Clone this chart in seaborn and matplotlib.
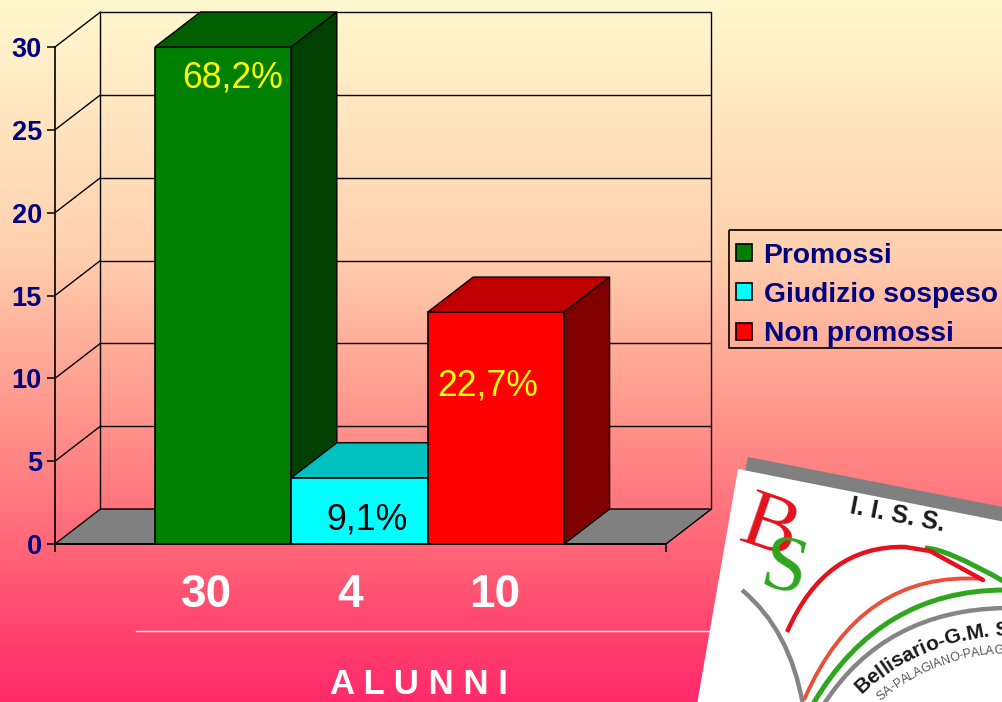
import numpy as np
import pandas as pd
import seaborn as sns
import matplotlib.pyplot as plt
from matplotlib.colors import LinearSegmentedColormap
from matplotlib.font_manager import FontProperties
from matplotlib.patches import PathPatch, Polygon, Rectangle
from matplotlib.path import Path
from matplotlib.textpath import TextPath

categories = ['Promossi', 'Giudizio sospeso', 'Non promossi']
bar_heights = [30, 4, 14]  # as drawn in the picture
alunni_labels = ['30', '4', '10']
percent_labels = ['68,2%', '9,1%', '22,7%']
percent_colors = ['#FFFF00', '#000000', '#FFFF00']
front_colors = ['#008000', '#00FFFF', '#FF0000']
top_colors = ['#006000', '#00C0C0', '#C00000']
side_colors = ['#004000', '#008080', '#800000']
y_ticks = [0, 5, 10, 15, 20, 25, 30]

W, H = 1003, 702

sns.set_theme(style='white')
plt.rcParams['font.family'] = ['Liberation Sans', 'DejaVu Sans']

fig = plt.figure(figsize=(W / 100, H / 100), dpi=100)

# background axes in picture pixels
bg = fig.add_axes([0, 0, 1, 1], zorder=0)
bg.set_xlim(0, W)
bg.set_ylim(H, 0)
bg.axis('off')
cmap = LinearSegmentedColormap.from_list('sfondo', [
    (0.0, '#FFF8CF'), (0.36, '#FFD0AE'), (0.5, '#FFAC98'),
    (0.67, '#FF8283'), (0.78, '#FF6678'), (0.89, '#FF466F'), (1.0, '#FF2A6A')])
bg.imshow(np.linspace(0, 1, 256).reshape(-1, 1), cmap=cmap, aspect='auto', extent=[0, W, H, 0])

# chart axes: y=0 at 544 px, y=30 at 47 px, bars 136.5 px wide
ax = fig.add_axes([55 / W, 1 - 544 / H, 611 / W, 497 / H], zorder=1)
ax.patch.set_alpha(0)
df = pd.DataFrame({'esito': categories, 'alunni': bar_heights})
sns.barplot(data=df, x='esito', y='alunni', hue='esito', hue_order=categories, palette=front_colors,
            width=1, dodge=False, edgecolor='black', linewidth=1.2, saturation=1, legend=False, ax=ax)
bars = sorted(ax.patches, key=lambda p: p.get_x())
ax.set_xlim(-1.233, 3.247)
ax.set_ylim(0, 30)
x0, x1 = ax.get_xlim()
dx = 45.5 / 136.5
dy = 35 / 16.57
line = dict(color='black', lw=1.0, clip_on=False)

# floor and back wall
ax.add_patch(Polygon([(x0, 0), (x1, 0), (x1 + dx, dy), (x0 + dx, dy)], closed=True, fc='#808080',
                     ec='black', lw=1.0, clip_on=False, zorder=0.5))
for v in y_ticks[1:]:
    ax.plot([x0 + dx, x1 + dx], [v + dy, v + dy], zorder=0.6, **line)
    ax.plot([x0, x0 + dx], [v, v + dy], zorder=0.6, **line)
ax.plot([x0 + dx, x0 + dx], [dy, 30 + dy], zorder=0.6, **line)
ax.plot([x1 + dx, x1 + dx], [dy, 30 + dy], zorder=0.6, **line)

# 3d faces of the bars, left to right so each one covers the previous
for i, (bar, h) in enumerate(zip(bars, bar_heights)):
    a = bar.get_x()
    b = a + bar.get_width()
    ax.add_patch(Polygon([(a, h), (b, h), (b + dx, h + dy), (a + dx, h + dy)], closed=True, fc=top_colors[i],
                         ec='black', lw=1.0, clip_on=False, zorder=2 + i))
    ax.add_patch(Polygon([(b, 0), (b + dx, dy), (b + dx, h + dy), (b, h)], closed=True, fc=side_colors[i],
                         ec='black', lw=1.0, clip_on=False, zorder=2 + i))
    bar.set_zorder(2.5 + i)

sns.despine(ax=ax)
for s in ['left', 'bottom']:
    ax.spines[s].set_color('black')
    ax.spines[s].set_linewidth(1.2)
    ax.spines[s].set_zorder(10)
ax.set_xlabel('')
ax.set_ylabel('')
ax.set_xticks([x0, x1])
ax.set_xticklabels([])
ax.set_yticks(y_ticks)
ax.tick_params(axis='both', which='major', direction='out', length=5.5, width=1.1, color='black',
               left=True, bottom=True, pad=4)
ax.tick_params(axis='y', labelsize=19.5, labelcolor='#000080')
for t in ax.get_yticklabels():
    t.set_fontweight('bold')


def px_text(x, y, s, **kw):
    fig.text(x / W, 1 - y / H, s, ha='center', va='center', zorder=5, **kw)


for x, y, s, c in zip([233, 367, 488], [78, 520, 386], percent_labels, percent_colors):
    px_text(x, y, s, color=c, fontsize=25.7)
for x, s in zip([207, 350, 495], alunni_labels):
    px_text(x, 595, s, color='white', fontsize=33, fontweight='bold')
px_text(419.5, 685, 'A L U N N I', color='white', fontsize=25, fontweight='bold')
bg.plot([136, 720], [631, 631], color='white', lw=1)

# legend frame runs off the right edge, so it is drawn apart from the entries
bg.add_patch(Rectangle((729, 230), 290, 118, fc='none', ec='black', lw=1.2))
handles = [plt.Rectangle((0, 0), 1, 1, fc=c, ec='black', lw=1.2) for c in front_colors]
leg = fig.legend(handles, categories, loc='upper left', bbox_to_anchor=(725.5 / W, 1 - 232 / H), borderaxespad=0,
                 frameon=False, labelcolor='#000080', handlelength=0.55, handleheight=0.55,
                 handletextpad=0.42, labelspacing=0.47, borderpad=0.38, prop={'weight': 'bold', 'size': 20.3})

# school logo, bottom right corner
lg = fig.add_axes([0, 0, 1, 1], zorder=2)
lg.set_xlim(0, W)
lg.set_ylim(H, 0)
lg.axis('off')
lg.add_patch(Polygon([(748, 457), (1003, 507), (1003, 522), (745, 471)], closed=True, fc='#808080', ec='none'))
lg.add_patch(Polygon([(738, 469), (1010, 523), (1010, 710), (696, 710)], closed=True, fc='white', ec='none'))


def curve(pts, color, lw):
    codes = [Path.MOVETO] + [Path.CURVE3] * (len(pts) - 1)
    lg.add_patch(PathPatch(Path(pts, codes), fc='none', ec=color, lw=lw, capstyle='butt'))


curve([(742, 590), (790, 630), (803, 705)], '#858585', 3.2)
curve([(925, 548), (945, 548), (1005, 582)], '#2EA61E', 3.6)
curve([(787, 632), (825, 545), (905, 547)], '#E3121D', 3.2)
lg.plot([905, 930, 983], [547, 551, 580], color='#E3121D', lw=3.2, solid_joinstyle='round')
curve([(983, 579), (860, 570), (804, 700)], '#E8503A', 2.8)
curve([(1005, 590), (880, 590), (813, 704)], '#2EA61E', 3.6)
curve([(1005, 608), (885, 610), (824, 704)], '#858585', 3.2)

lg.text(769, 530, 'B', family='Liberation Serif', fontsize=60, color='#E3121D', rotation=-19,
        ha='center', va='center')
lg.text(784, 572, 'S', family='Liberation Serif', fontsize=58, color='#2EA61E', rotation=-13,
        ha='center', va='center')
lg.text(897, 515, 'I. I. S. S.', fontsize=18, fontweight='bold', color='#1A1A1A', rotation=-11,
        ha='center', va='center')


def arc_text(s, start, radius, size, weight, color):
    cx, cy = 1011, 855
    fp = FontProperties(family='Liberation Sans', weight=weight, size=size * 0.72)
    mark = TextPath((0, 0), '|', size=size, prop=fp).get_extents().x1
    for i, ch in enumerate(s):
        adv = TextPath((0, 0), s[:i] + '|', size=size, prop=fp).get_extents().x1 - mark
        ang = start + np.degrees(adv / radius)
        x = cx - radius * np.cos(np.radians(ang))
        y = cy - radius * np.sin(np.radians(ang))
        if x < 996 and y < 700:
            lg.text(x, y, ch, fontproperties=fp, color=color, rotation=90 - ang,
                    ha='left', va='center', rotation_mode='anchor')


arc_text('Bellisario-G.M. S', 47, 225, 21, 'bold', '#1A1A1A')
arc_text('OSA-PALAGIANO-PALAG', 47, 205, 12.5, 'normal', '#555555')

fig.savefig('out.png', dpi=100)
